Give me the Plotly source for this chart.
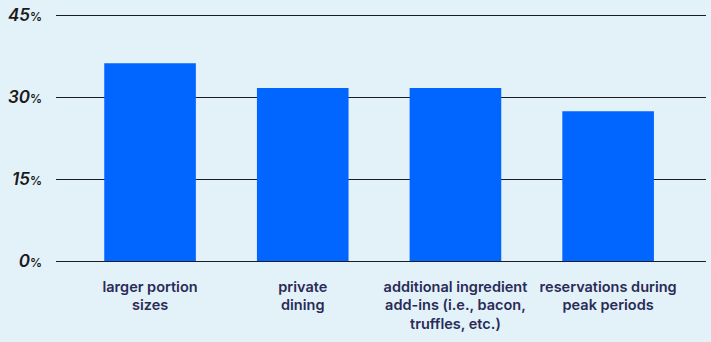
import plotly.graph_objects as go

categories = [
    "larger portion<br>sizes",
    "private<br>dining",
    "additional ingredient<br>add-ins (i.e., bacon,<br>truffles, etc.)",
    "reservations during<br>peak periods",
]
values = [36.2, 31.7, 31.7, 27.4]
tick_vals = [0, 15, 30, 45]
tick_nums = ["0", "15", "30", "45"]

tick_text = [f"<i>{n}</i><span style='font-size:12px'>%</span>" for n in tick_nums]

fig = go.Figure(
    go.Bar(
        x=categories,
        y=values,
        marker=dict(color="#0066FF", line=dict(width=0)),
        hoverinfo="skip",
    )
)

fig.update_layout(
    width=711,
    height=342,
    margin=dict(l=56, r=5, t=10, b=81),
    paper_bgcolor="#E3F1F9",
    plot_bgcolor="#E3F1F9",
    bargap=0.4,
    showlegend=False,
    font=dict(family="Inter", color="#2a2b57"),
)

fig.update_xaxes(
    range=[-0.616, 3.641],
    showgrid=False,
    showline=False,
    zeroline=False,
    ticks="",
    tickfont=dict(family="Inter", size=14.5, color="#2a2b57", weight=600),
    ticklabelstandoff=15,
)

fig.update_yaxes(
    range=[0, 45.23],
    tickvals=tick_vals,
    ticktext=tick_text,
    showgrid=True,
    gridcolor="#1c1c24",
    gridwidth=1,
    zeroline=True,
    zerolinecolor="#1c1c24",
    zerolinewidth=1,
    showline=False,
    ticks="",
    tickfont=dict(family="Inter", size=17, color="#1a1a1a", weight=600),
    ticklabelstandoff=13,
)

fig.write_html("out.html")
